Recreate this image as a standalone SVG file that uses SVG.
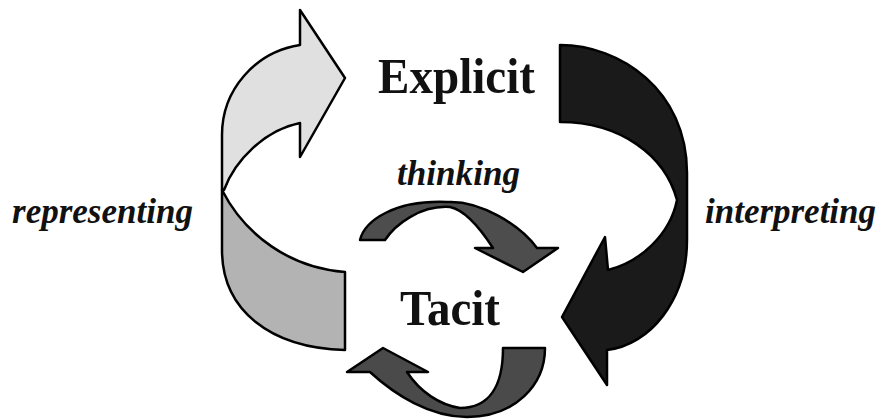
<svg xmlns="http://www.w3.org/2000/svg" width="881" height="419" viewBox="0 0 881 419">
<style>
.arr{stroke:#000;stroke-width:2.5;stroke-linejoin:round}
.big{font-family:"Liberation Serif","Times New Roman",serif;font-weight:bold;font-size:50px;fill:#111}
.lbl{font-family:"Liberation Serif","Times New Roman",serif;font-weight:bold;font-style:italic;font-size:35px;fill:#111}
</style>
<rect width="881" height="419" fill="#fff"/>
<g id="connectors">
  <g id="representing">
    <path class="arr" fill="#b3b3b3" d="M222,190 L222,250 C222,310 270,348 345,350 L345,272 C290,268 245,235 222,190 Z"/>
    <path class="arr" fill="#e0e0e0" d="M222,190 L222,135 C222,90 255,52 300,45 L300,10 L345,78 L300,157 L300,123 C265,130 235,160 224,190 Z"/>
    <text class="lbl" x="12" y="223" textLength="181" lengthAdjust="spacingAndGlyphs">representing</text>
  </g>
  <g id="interpreting">
    <path class="arr" fill="#1a1a1a" d="M560,45 C620,45 687,90 687,173 L687,240 C687,300 650,345 607,350 L607,385 L562,317 L605,237 L608,270 C640,262 670,235 677,200 C665,155 620,122 560,122 Z"/>
    <text class="lbl" x="705" y="223" textLength="171" lengthAdjust="spacingAndGlyphs">interpreting</text>
  </g>
  <g id="thinking">
    <path class="arr" fill="#4d4d4d" d="M360,240 C365,220 395,200 447,202 C480,200 520,225 537,248 L558,248 L523,272 L475,248 L493,248 C480,228 465,210 450,207 C420,205 395,225 385,240 Z"/>
    <text class="lbl" x="397" y="185" textLength="123" lengthAdjust="spacingAndGlyphs">thinking</text>
  </g>
  <g id="socializing">
    <path class="arr" fill="#4a4a4a" d="M503,348 L545,348 C545,385 515,417 467,417 C430,417 395,395 370,372 L347,372 L383,348 L428,372 L407,372 C420,392 440,405 460,408 C490,408 503,385 503,348 Z"/>
  </g>
</g>
<g id="node-explicit">
  <text class="big" x="378" y="93" textLength="157" lengthAdjust="spacingAndGlyphs">Explicit</text>
</g>
<g id="node-tacit">
  <text class="big" x="400" y="325" textLength="100" lengthAdjust="spacingAndGlyphs">Tacit</text>
</g>
</svg>
